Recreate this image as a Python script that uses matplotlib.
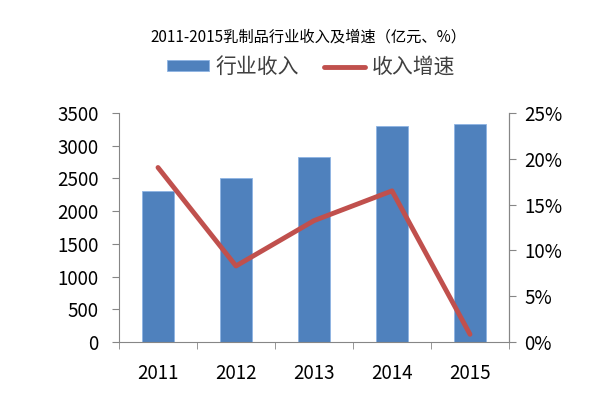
import matplotlib
matplotlib.use("Agg")
import matplotlib.pyplot as plt
from matplotlib.ticker import FuncFormatter

plt.rcParams['font.family'] = ['Noto Sans CJK SC', 'DejaVu Sans']

years = ['2011', '2012', '2013', '2014', '2015']
revenue = [2310, 2500, 2827, 3296, 3327]
growth = [19.05, 8.3, 13.25, 16.5, 0.84]

bar_color = '#4f81bd'
line_color = '#c0504d'
axis_color = '#868686'

fig = plt.figure(figsize=(6.16, 3.99), dpi=100)
ax = fig.add_axes([119 / 616, 1 - 342 / 399, 390 / 616, 229 / 399])
ax2 = ax.twinx()

x = list(range(len(years)))
ax.bar(x, revenue, width=0.4, color=bar_color, edgecolor='#8eb4e3', linewidth=0.6,
       label='行业收入', zorder=2)
ax2.plot(x, growth, color=line_color, linewidth=3.5, solid_capstyle='round',
         label='收入增速', zorder=3)

ax.set_xlim(-0.5, 4.5)
ax.set_ylim(0, 3500)
ax.set_yticks(range(0, 3501, 500))
ax2.set_ylim(0, 25)
ax2.set_yticks(range(0, 26, 5))
ax2.yaxis.set_major_formatter(FuncFormatter(lambda v, p: '%d%%' % v))

ax.set_xticks(x)
ax.set_xticklabels(years)
ax.set_xticks([i - 0.5 for i in range(6)], minor=True)
ax.tick_params(axis='x', which='major', length=0, pad=15)
ax.tick_params(axis='x', which='minor', length=5, color=axis_color, direction='out')

for a in (ax, ax2):
    a.spines['top'].set_visible(False)
    for s in ('left', 'right', 'bottom'):
        a.spines[s].set_color(axis_color)
    a.tick_params(labelsize=13.5, colors='#000000')
ax.tick_params(axis='y', length=5, color=axis_color, pad=9.5)
ax2.tick_params(axis='y', length=5, color=axis_color, pad=6)
ax2.spines['left'].set_visible(False)
ax2.spines['bottom'].set_visible(False)
ax.set_zorder(ax2.get_zorder() - 1)
ax2.patch.set_visible(False)

fig.text(0.5, 1 - 37 / 399, '2011-2015乳制品行业收入及增速（亿元、%）',
         ha='center', va='center', fontsize=11, color='#000000')

h1, l1 = ax.get_legend_handles_labels()
h2, l2 = ax2.get_legend_handles_labels()
leg = fig.legend(h1 + h2, l1 + l2, loc='center', bbox_to_anchor=(0.505, 1 - 67 / 399),
                 ncol=2, frameon=False, fontsize=15, handlelength=2.0,
                 handleheight=0.4, columnspacing=1.2, handletextpad=0.3)
for t in leg.get_texts():
    t.set_color('#404040')

fig.savefig('out.png', dpi=100)
